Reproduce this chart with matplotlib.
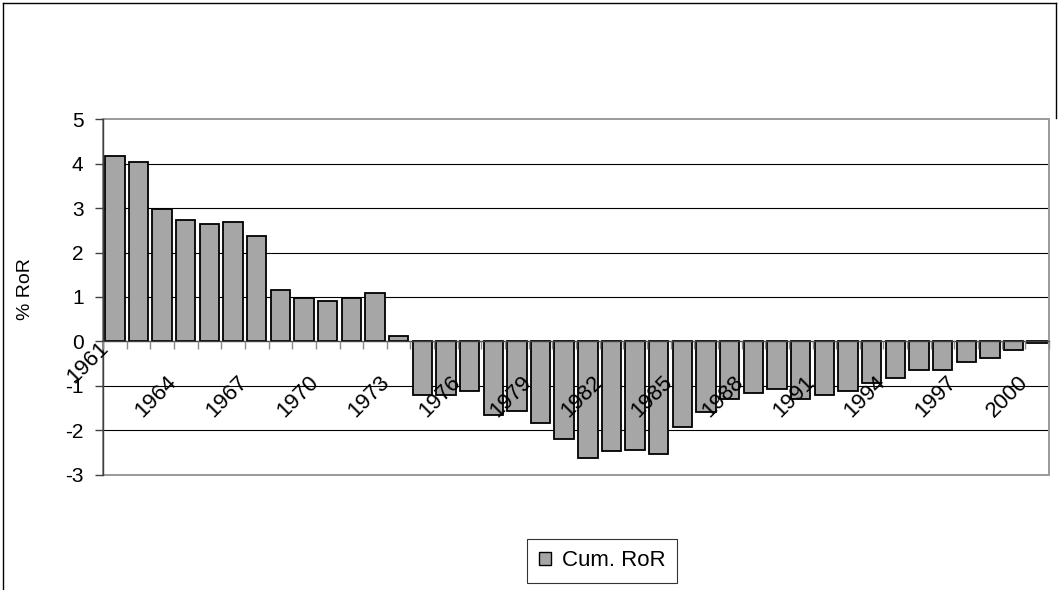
import matplotlib
matplotlib.use("Agg")
import matplotlib.pyplot as plt
import matplotlib.transforms as mtransforms
from matplotlib.patches import Rectangle, Patch
from matplotlib.lines import Line2D
import numpy as np

# ---- data ----
years = list(range(1961, 2001))
cum_ror = [4.18, 4.04, 2.97, 2.74, 2.65, 2.69, 2.38, 1.16, 0.98, 0.90,
           0.98, 1.08, 0.13, -1.21, -1.22, -1.12, -1.67, -1.58, -1.85, -2.21,
           -2.62, -2.48, -2.44, -2.53, -1.94, -1.59, -1.31, -1.16, -1.08, -1.31,
           -1.22, -1.12, -0.95, -0.82, -0.64, -0.64, -0.46, -0.37, -0.19, -0.03]
label_years = [1961, 1964, 1967, 1970, 1973, 1976, 1979, 1982, 1985, 1988,
               1991, 1994, 1997, 2000]
y_ticks = [-3, -2, -1, 0, 1, 2, 3, 4, 5]
series_name = "Cum. RoR"
y_label = "% RoR"

plt.rcParams["font.family"] = ["Liberation Sans", "DejaVu Sans"]

W, H = 1059, 590
fig = plt.figure(figsize=(W / 100, H / 100), dpi=100)
fig.patch.set_facecolor("white")

# plot area in pixels: x 103..1049, y 119.3..474.5 (from top)
ax = fig.add_axes([103 / W, (H - 474.5) / H, 946 / W, (474.5 - 119.3) / H])

x = np.arange(len(years))
ax.bar(x, cum_ror, width=0.82, color="#a6a6a6", edgecolor="black",
       linewidth=1.3, zorder=2, label=series_name)

ax.set_xlim(-0.5, len(years) - 0.5)
ax.set_ylim(min(y_ticks), max(y_ticks))
ax.set_yticks(y_ticks)
ax.set_yticklabels([str(v) for v in y_ticks])

# gridlines (behind bars)
for v in y_ticks:
    if v not in (0, min(y_ticks), max(y_ticks)):
        ax.axhline(v, color="black", linewidth=0.8, zorder=0.5)

ax.set_axisbelow(False)  # axis (tick labels) drawn above the bars

# spines
for s in ["top", "right"]:
    ax.spines[s].set_visible(False)
ax.spines["left"].set_color("#404040")
ax.spines["left"].set_linewidth(1.0)
ax.spines["bottom"].set_position(("data", 0))
ax.spines["bottom"].set_color("#404040")
ax.spines["bottom"].set_linewidth(1.0)

# gray frame of plot area
ax.add_patch(Rectangle((0, 0), 1, 1, transform=ax.transAxes, fill=False,
                       edgecolor="#9a9a9a", linewidth=1.4, zorder=1,
                       clip_on=False))

# x ticks: minor at category boundaries, labels at selected years
ax.set_xticks(np.arange(-0.5, len(years), 1), minor=True)
label_pos = [years.index(y) for y in label_years]
ax.set_xticks(label_pos)
ax.set_xticklabels([str(y) for y in label_years])
ax.tick_params(axis="x", which="minor", length=6, width=1.0,
               color="#8a8a8a", direction="out")
ax.tick_params(axis="x", which="major", length=0, pad=22, labelsize=16)
offset = mtransforms.ScaledTranslation(-20 / 100, 0, fig.dpi_scale_trans)
first_offset = mtransforms.ScaledTranslation(-17 / 100, 34 / 100,
                                             fig.dpi_scale_trans)
for i, lab in enumerate(ax.get_xticklabels()):
    lab.set_rotation(45)
    lab.set_rotation_mode("anchor")
    lab.set_ha("right")
    lab.set_va("top")
    lab.set_transform(lab.get_transform() + (first_offset if i == 0 else offset))

ax.tick_params(axis="y", length=6, width=1.0, color="#404040", pad=8,
               labelsize=15)

fig.text(25 / W, 1 - 289 / H, y_label, rotation=90, ha="center", va="center",
         fontsize=14)

# legend
handle = Patch(facecolor="#a6a6a6", edgecolor="black", linewidth=1.0)
leg = fig.legend([handle], [series_name], loc="center",
                 bbox_to_anchor=(602 / W, 1 - 561 / H), fontsize=16,
                 frameon=True, fancybox=False, handlelength=0.55,
                 handleheight=0.55, handletextpad=0.5, borderpad=0.5,
                 borderaxespad=0)
leg.get_frame().set_edgecolor("black")
leg.get_frame().set_linewidth(0.8)

# outer chart border
fig.add_artist(Line2D([2.5 / W, 2.5 / W], [0, 1 - 2.5 / H],
                      transform=fig.transFigure, color="black", linewidth=1.0))
fig.add_artist(Line2D([2.5 / W, 1055.5 / W], [1 - 2.5 / H, 1 - 2.5 / H],
                      transform=fig.transFigure, color="black", linewidth=1.0))
fig.add_artist(Line2D([1055.5 / W, 1055.5 / W], [1 - 2.5 / H, 1 - 118 / H],
                      transform=fig.transFigure, color="black", linewidth=1.0))

fig.savefig("out.png", dpi=100)
